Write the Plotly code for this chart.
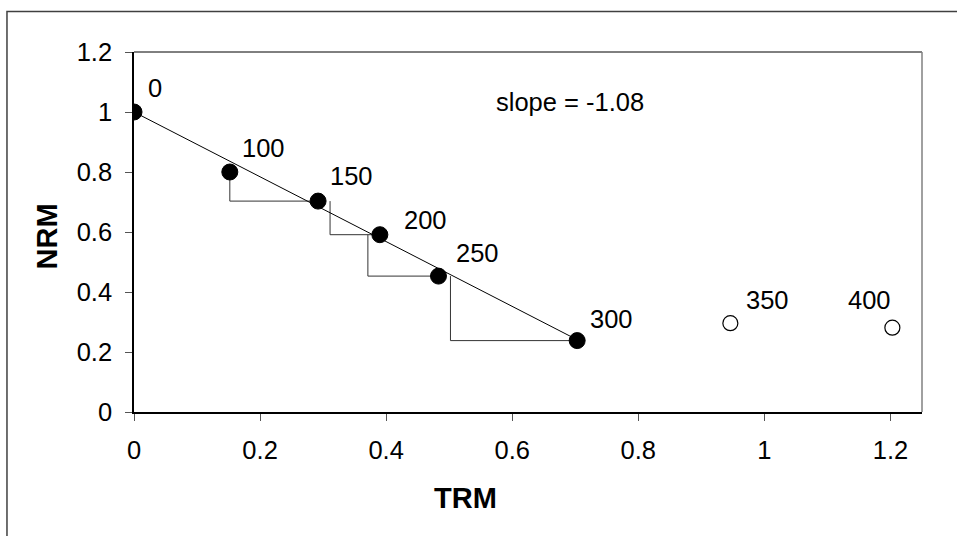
import plotly.graph_objects as go

# Arai plot: NRM remaining vs TRM gained at each heating step (°C)
temps = [0, 100, 150, 200, 250, 300, 350, 400]
trm = [0.0, 0.152, 0.292, 0.390, 0.483, 0.703, 0.946, 1.203]
nrm = [1.0, 0.800, 0.703, 0.591, 0.453, 0.238, 0.296, 0.281]
n_fit = 6  # steps 0-300 used for the fit (filled); the rest are open

# pTRM check x positions, one per step from 100 to 250
check_x = [0.152, 0.311, 0.371, 0.502]

slope = -1.08
intercept = 1.0

x_ticks = [0, 0.2, 0.4, 0.6, 0.8, 1, 1.2]
y_ticks = [0, 0.2, 0.4, 0.6, 0.8, 1, 1.2]

# label offsets in pixels (dx, dy) relative to each point
label_offsets = [(12, 24), (10, 24), (10, 25), (22, 15), (16, 23), (11, 22), (14, 23), (-46, 28)]

FONT = "Liberation Sans, Arial, sans-serif"
NUM_SIZE = 25.5
TITLE_SIZE = 29

fig = go.Figure()

# pTRM check steps: vertical drop then horizontal run to the next point
for i, cx in enumerate(check_x):
    k = i + 1
    fig.add_trace(go.Scatter(
        x=[cx, cx, trm[k + 1]],
        y=[nrm[k], nrm[k + 1], nrm[k + 1]],
        mode="lines", line=dict(color="#333333", width=1),
        hoverinfo="skip", showlegend=False,
    ))

# best-fit line over the selected steps
x_fit = [trm[0], trm[n_fit - 1]]
fig.add_trace(go.Scatter(
    x=x_fit, y=[intercept + slope * v for v in x_fit],
    mode="lines", line=dict(color="#000000", width=1),
    hoverinfo="skip", showlegend=False,
))

fig.add_trace(go.Scatter(
    x=trm[:n_fit], y=nrm[:n_fit], mode="markers",
    marker=dict(size=16, color="#000000", line=dict(color="#000000", width=1)),
    showlegend=False,
))
fig.add_trace(go.Scatter(
    x=trm[n_fit:], y=nrm[n_fit:], mode="markers",
    marker=dict(size=15, color="#ffffff", line=dict(color="#000000", width=1.2)),
    showlegend=False,
))

for t, xv, yv, (dx, dy) in zip(temps, trm, nrm, label_offsets):
    fig.add_annotation(
        x=xv, y=yv, text=str(t), showarrow=False,
        xanchor="left", yanchor="middle", xshift=dx, yshift=dy,
        font=dict(family=FONT, size=NUM_SIZE, color="#000000"),
    )

fig.add_annotation(
    x=0.691, y=1.032, xref="x", yref="y", text=f"slope = {slope:.2f}", showarrow=False,
    xanchor="center", yanchor="middle",
    font=dict(family=FONT, size=NUM_SIZE, color="#000000"),
)

# axis titles
fig.add_annotation(
    x=(465 - 134) / 788, y=(411.5 - 497) / 360, xref="paper", yref="paper",
    text="<b>TRM</b>", showarrow=False, xanchor="center", yanchor="middle",
    font=dict(family=FONT, size=TITLE_SIZE, color="#000000"),
)
fig.add_annotation(
    x=(47 - 134) / 788, y=(411.5 - 236) / 360, xref="paper", yref="paper",
    text="<b>NRM</b>", showarrow=False, xanchor="center", yanchor="middle", textangle=-90,
    font=dict(family=FONT, size=TITLE_SIZE, color="#000000"),
)

# top/right frame of the plot area and the outer chart border
fig.add_shape(type="line", xref="paper", yref="paper", x0=0, x1=1, y0=1, y1=1,
              line=dict(color="#000000", width=1))
fig.add_shape(type="line", xref="paper", yref="paper", x0=1, x1=1, y0=0, y1=1,
              line=dict(color="#808080", width=1.5))
fig.add_shape(type="rect", xref="paper", yref="paper",
              x0=-0.1612, x1=1.2, y0=-0.5, y1=1.1125,
              line=dict(color="#404040", width=1.5), fillcolor="rgba(0,0,0,0)", layer="below")

fig.update_xaxes(
    range=[0, 1.25], tickvals=x_ticks, ticktext=[f"{v:g}" for v in x_ticks],
    showgrid=False, zeroline=False, showline=True, linecolor="#000000", linewidth=2,
    ticks="outside", ticklen=7, tickcolor="#555555", tickwidth=1, ticklabelstandoff=7,
    tickfont=dict(family=FONT, size=NUM_SIZE, color="#000000"),
)
fig.update_yaxes(
    range=[0, 1.2], tickvals=y_ticks, ticktext=[f"{v:g}" for v in y_ticks],
    showgrid=False, zeroline=False, showline=True, linecolor="#000000", linewidth=1.5,
    ticks="outside", ticklen=7, tickcolor="#555555", tickwidth=1, ticklabelstandoff=8,
    tickfont=dict(family=FONT, size=NUM_SIZE, color="#000000"),
)

fig.update_layout(
    width=957, height=536,
    margin=dict(l=134, r=35, t=52, b=124),
    paper_bgcolor="#ffffff", plot_bgcolor="#ffffff",
    showlegend=False,
)

fig.write_html("out.html")
